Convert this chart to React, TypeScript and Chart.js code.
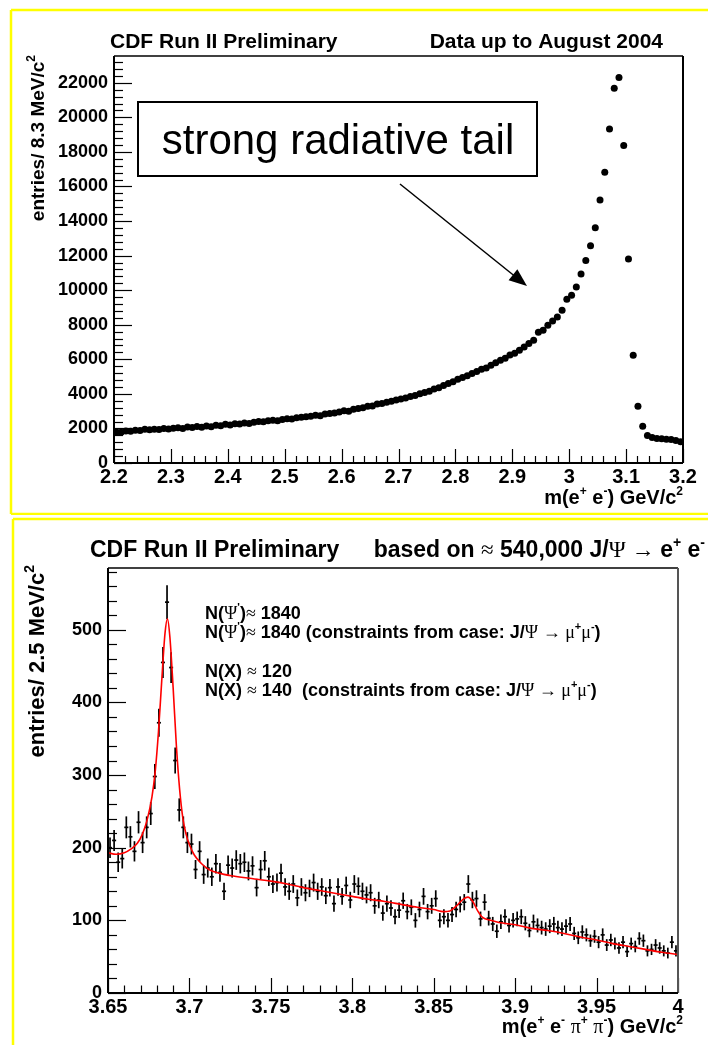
import React, { useEffect, useRef } from 'react';
import { Chart, registerables } from 'chart.js';
Chart.register(...registerables);

// ---------------- DATA ----------------
// Top panel: m(e+e-) spectrum, 120 bins of 8.33 MeV from 2.2 to 3.2 GeV
const topRange = [2.2, 3.2];
const topCounts = [
  1800, 1780, 1850, 1830, 1900, 1880, 1950, 1920, 1960, 1940,
  2000, 1970, 2010, 2040, 2000, 2080, 2060, 2110, 2070, 2140,
  2100, 2180, 2150, 2240, 2200, 2270, 2250, 2310, 2290, 2360,
  2400, 2380, 2440, 2470, 2450, 2520, 2560, 2540, 2620, 2650,
  2680, 2710, 2760, 2740, 2830, 2860, 2900, 2950, 3020, 3000,
  3110, 3150, 3200, 3280, 3300, 3420, 3440, 3520, 3580, 3650,
  3700, 3760, 3850, 3900, 4000, 4080, 4150, 4280, 4350, 4480,
  4600, 4700, 4850, 4950, 5050, 5180, 5300, 5420, 5500, 5650,
  5800, 5950, 6060, 6250, 6350, 6520, 6710, 6910, 7100, 7560,
  7680, 7970, 8220, 8450, 8840, 9480, 9710, 10190, 10930, 11720,
  12570, 13610, 15220, 16820, 19320, 21690, 22310, 18370, 11800, 6230,
  3280, 2130, 1590, 1480, 1420, 1400, 1380, 1360, 1300, 1230,
];
const topXTicks = [2.2, 2.3, 2.4, 2.5, 2.6, 2.7, 2.8, 2.9, 3.0, 3.1, 3.2];
const topYTicks = [0, 2000, 4000, 6000, 8000, 10000, 12000, 14000, 16000, 18000, 20000, 22000];
const topYMax = 23550;

// Bottom panel: m(e+e-pi+pi-) spectrum, 140 bins of 2.5 MeV from 3.65 to 4.0 GeV
const botRange = [3.65, 4.0];
const botCounts = [
  200, 210, 180, 185, 228, 215, 195, 235, 207, 228,
  247, 298, 372, 455, 538, 448, 320, 252, 228, 207,
  205, 170, 195, 163, 172, 160, 178, 166, 140, 176,
  172, 183, 178, 180, 168, 175, 145, 170, 182, 160,
  150, 152, 165, 146, 140, 150, 131, 146, 138, 144,
  152, 140, 146, 134, 145, 123, 146, 133, 148, 128,
  150, 147, 140, 135, 138, 120, 128, 110, 123, 117,
  105, 114, 127, 112, 118, 100, 115, 133, 112, 120,
  130, 100, 105, 100, 108, 115, 122, 125, 150, 128,
  130, 102, 125, 103, 95, 85, 98, 105, 93, 100,
  102, 105, 96, 86, 98, 93, 90, 88, 92, 95,
  90, 88, 92, 95, 82, 76, 84, 80, 72, 78,
  70, 80, 66, 73, 68, 62, 70, 57, 68, 64,
  75, 72, 58, 60, 66, 62, 58, 55, 70, 58,
];
// Fit curve (red)
const fitMass = [
  3.65, 3.655, 3.66, 3.664, 3.668, 3.671, 3.674, 3.677, 3.679, 3.681, 3.683, 3.685, 3.6865,
  3.688, 3.69, 3.692, 3.694, 3.696, 3.698, 3.7, 3.703, 3.707, 3.712, 3.718, 3.727, 3.74,
  3.75, 3.76, 3.77, 3.78, 3.79, 3.8, 3.81, 3.82, 3.83, 3.84, 3.85, 3.856, 3.86, 3.864,
  3.868, 3.871, 3.874, 3.877, 3.88, 3.885, 3.89, 3.9, 3.91, 3.92, 3.93, 3.94, 3.95, 3.96,
  3.97, 3.98, 3.99, 4.0,
];
const fitValue = [
  193, 191, 193, 198, 206, 218, 238, 270, 305, 360, 430, 495, 515,
  490, 420, 340, 280, 240, 218, 204, 190, 179, 170, 165, 161, 157,
  154, 150, 145, 141, 137, 133, 129, 126, 122, 118, 115, 112, 113, 120,
  129, 132, 126, 113, 104, 100, 97, 94, 89, 86, 82, 77, 73, 68,
  64, 60, 56, 53,
];
const botXTicks = [3.65, 3.7, 3.75, 3.8, 3.85, 3.9, 3.95, 4.0];
const botYTicks = [0, 100, 200, 300, 400, 500];
const botYMax = 585;

// ---------------- helpers ----------------
const FAM = "'Liberation Sans', Arial, Helvetica, sans-serif";
const SERIF = "'Liberation Serif', 'DejaVu Serif', serif";

type Seg = { t: string; sz?: number; b?: boolean; serif?: boolean; up?: number };

function drawRich(ctx: CanvasRenderingContext2D, segs: Seg[], x: number, y: number, size: number, align: 'left' | 'right' | 'center') {
  const parts = segs.map((s) => {
    const sz = s.sz ?? size;
    const bold = s.b === false || s.serif ? '' : 'bold ';
    const font = `${bold}${sz}px ${s.serif ? SERIF : FAM}`;
    ctx.font = font;
    return { ...s, font, w: ctx.measureText(s.t).width };
  });
  const total = parts.reduce((a, p) => a + p.w, 0);
  let cx = align === 'right' ? x - total : align === 'center' ? x - total / 2 : x;
  ctx.textAlign = 'left';
  ctx.textBaseline = 'alphabetic';
  for (const p of parts) {
    ctx.font = p.font;
    ctx.fillText(p.t, cx, y - (p.up ?? 0));
    cx += p.w;
  }
}
const sup = (t: string, size: number): Seg => ({ t, sz: Math.round(size * 0.62), up: size * 0.45 });

function line(ctx: CanvasRenderingContext2D, x1: number, y1: number, x2: number, y2: number) {
  ctx.beginPath();
  ctx.moveTo(x1, y1);
  ctx.lineTo(x2, y2);
  ctx.stroke();
}

function drawAxesTicks(chart: any, xMinor: number, yMinor: number, yMajor: number, xMajorEvery: number, yMax: number, xr: number[], tickLenY: number, tickLenX: number, rightColor: string) {
  const { ctx, chartArea: a, scales } = chart;
  const x = scales.x, y = scales.y;
  ctx.save();
  ctx.strokeStyle = '#000';
  ctx.lineWidth = 1.2;
  for (let k = 0; k * yMinor <= yMax + 1e-9; k++) {
    const v = k * yMinor;
    const py = Math.round(y.getPixelForValue(v)) + 0.5;
    const major = k % (yMajor / yMinor) === 0;
    line(ctx, a.left, py, a.left + (major ? tickLenY : tickLenY / 2), py);
  }
  const n = Math.round((xr[1] - xr[0]) / xMinor);
  for (let k = 0; k <= n; k++) {
    const v = xr[0] + k * xMinor;
    const px = Math.round(x.getPixelForValue(v)) + 0.5;
    const major = k % xMajorEvery === 0;
    line(ctx, px, a.bottom, px, a.bottom - (major ? tickLenX : tickLenX / 2));
  }
  // frame
  ctx.lineWidth = 1.5;
  line(ctx, a.left, a.top, a.right, a.top);
  ctx.strokeStyle = rightColor;
  ctx.lineWidth = 2;
  line(ctx, a.right, a.top, a.right, a.bottom);
  ctx.strokeStyle = '#000';
  line(ctx, a.left, a.top, a.left, a.bottom);
  line(ctx, a.left, a.bottom, a.right, a.bottom);
  ctx.restore();
}

const fmtX = (v: number) => String(+Number(v).toFixed(2));

// ---------------- plugins ----------------
const topPlugin = {
  id: 'topDeco',
  afterDraw(chart: any) {
    const { ctx } = chart;
    drawAxesTicks(chart, 0.02, 400, 2000, 5, topYMax, topRange, 18, 14, '#000');
    ctx.save();
    ctx.fillStyle = '#000';
    // titles
    drawRich(ctx, [{ t: 'CDF Run II Preliminary' }], 110, 48, 21, 'left');
    drawRich(ctx, [{ t: 'Data up to August 2004' }], 663, 48, 21, 'right');
    // x label
    drawRich(ctx, [{ t: 'm(e' }, sup('+', 20), { t: ' e' }, sup('-', 20), { t: ') GeV/c' }, sup('2', 20)], 683, 504, 20, 'right');
    // y label
    ctx.save();
    ctx.translate(44, 55);
    ctx.rotate(-Math.PI / 2);
    drawRich(ctx, [{ t: 'entries/ 8.3 MeV/c' }, sup('2', 19)], 0, 0, 19, 'right');
    ctx.restore();
    // annotation box
    ctx.fillStyle = '#fff';
    ctx.fillRect(138, 102, 399, 74);
    ctx.strokeStyle = '#000';
    ctx.lineWidth = 2;
    ctx.strokeRect(138, 102, 399, 74);
    ctx.fillStyle = '#000';
    ctx.font = `42px ${FAM}`;
    ctx.textAlign = 'center';
    ctx.textBaseline = 'alphabetic';
    ctx.fillText('strong radiative tail', 338, 154);
    // arrow
    const x1 = 400, y1 = 184, x2 = 527, y2 = 286;
    const ang = Math.atan2(y2 - y1, x2 - x1);
    ctx.lineWidth = 1.5;
    line(ctx, x1, y1, x2 - 14 * Math.cos(ang), y2 - 14 * Math.sin(ang));
    ctx.beginPath();
    ctx.moveTo(x2, y2);
    ctx.lineTo(x2 - 18 * Math.cos(ang) + 7 * Math.sin(ang), y2 - 18 * Math.sin(ang) - 7 * Math.cos(ang));
    ctx.lineTo(x2 - 18 * Math.cos(ang) - 7 * Math.sin(ang), y2 - 18 * Math.sin(ang) + 7 * Math.cos(ang));
    ctx.closePath();
    ctx.fill();
    // yellow frame
    ctx.strokeStyle = '#ffff00';
    ctx.lineWidth = 2.5;
    line(ctx, 11, 10, 708, 10);
    line(ctx, 11, 10, 11, 514);
    line(ctx, 11, 514, 708, 514);
    ctx.restore();
  },
};

const BIN_BOT = (botRange[1] - botRange[0]) / botCounts.length;

const botPlugin = {
  id: 'botDeco',
  beforeDatasetsDraw(chart: any) {
    const { ctx, chartArea: a, scales } = chart;
    const x = scales.x, y = scales.y;
    const pts = chart.data.datasets[1].data as { x: number; y: number }[];
    ctx.save();
    ctx.beginPath();
    ctx.rect(a.left, a.top, a.right - a.left, a.bottom - a.top);
    ctx.clip();
    ctx.strokeStyle = '#000';
    ctx.lineWidth = 1.7;
    for (const p of pts) {
      const e = Math.sqrt(p.y);
      const px = x.getPixelForValue(p.x);
      const py = y.getPixelForValue(p.y);
      line(ctx, px, y.getPixelForValue(p.y + e), px, y.getPixelForValue(p.y - e));
      line(ctx, x.getPixelForValue(p.x - BIN_BOT / 2), py, x.getPixelForValue(p.x + BIN_BOT / 2), py);
    }
    ctx.restore();
  },
  afterDraw(chart: any) {
    const { ctx } = chart;
    drawAxesTicks(chart, 0.01, 20, 100, 5, botYMax, botRange, 18, 15, '#555');
    ctx.save();
    ctx.fillStyle = '#000';
    const T = 23;
    drawRich(ctx, [{ t: 'CDF Run II Preliminary' }], 90, 42, T, 'left');
    drawRich(
      ctx,
      [{ t: 'based on ' }, { t: '≈', serif: true }, { t: ' 540,000 J/' }, { t: 'Ψ', serif: true }, { t: ' → ', serif: true }, { t: 'e' }, sup('+', T), { t: ' e' }, sup('-', T)],
      705, 42, T, 'right'
    );
    const S = 18;
    const psi: Seg[] = [{ t: 'N(' }, { t: 'Ψ', serif: true }, sup("'", S), { t: ')' }, { t: '≈', serif: true }, { t: ' 1840' }];
    const cons: Seg[] = [{ t: '(constraints from case: J/' }, { t: 'Ψ', serif: true }, { t: ' → ', serif: true }, { t: 'μ', serif: true }, sup('+', S), { t: 'μ', serif: true }, sup('-', S), { t: ')' }];
    drawRich(ctx, psi, 205, 104, S, 'left');
    drawRich(ctx, [...psi, { t: ' ' }, ...cons], 205, 123, S, 'left');
    const nx1: Seg[] = [{ t: 'N(X) ' }, { t: '≈', serif: true }, { t: ' 120' }];
    const nx2: Seg[] = [{ t: 'N(X) ' }, { t: '≈', serif: true }, { t: ' 140  ' }, ...cons];
    drawRich(ctx, nx1, 205, 162, S, 'left');
    drawRich(ctx, nx2, 205, 181, S, 'left');
    // x label
    const L = 20;
    drawRich(
      ctx,
      [{ t: 'm(e' }, sup('+', L), { t: ' e' }, sup('-', L), { t: ' ' }, { t: 'π', serif: true }, sup('+', L), { t: ' ' }, { t: 'π', serif: true }, sup('-', L), { t: ') GeV/c' }, sup('2', L)],
      683, 518, L, 'right'
    );
    // y label
    ctx.save();
    ctx.translate(44, 50);
    ctx.rotate(-Math.PI / 2);
    drawRich(ctx, [{ t: 'entries/ 2.5 MeV/c' }, sup('2', 22)], 0, 0, 22, 'right');
    ctx.restore();
    // yellow frame
    ctx.strokeStyle = '#ffff00';
    ctx.lineWidth = 2.5;
    line(ctx, 13, 4, 708, 4);
    line(ctx, 13, 4, 13, 530);
    ctx.restore();
  },
};

// ---------------- component ----------------
function useChart(ref: React.RefObject<HTMLCanvasElement>, make: (c: HTMLCanvasElement) => Chart) {
  useEffect(() => {
    if (!ref.current) return;
    const ch = make(ref.current);
    return () => ch.destroy();
  }, []);
}

const tickFont = (size: number) => ({ family: FAM, size, weight: 'bold' as const });
const noGrid = { display: false, drawTicks: false, tickLength: 0 };

export default function App() {
  const topRef = useRef<HTMLCanvasElement>(null);
  const botRef = useRef<HTMLCanvasElement>(null);

  useEffect(() => {
    document.body.style.margin = '0';
    document.body.style.background = '#fff';
  }, []);

  useChart(topRef as any, (c) => {
    const bw = (topRange[1] - topRange[0]) / topCounts.length;
    const pts = topCounts.map((v, i) => ({ x: topRange[0] + (i + 0.5) * bw, y: v }));
    return new Chart(c, {
      type: 'scatter',
      data: {
        datasets: [
          { data: pts, pointRadius: 3.5, pointBackgroundColor: '#000', pointBorderWidth: 0, pointBorderColor: '#000' },
        ],
      },
      options: {
        animation: false,
        responsive: false,
        maintainAspectRatio: false,
        layout: { padding: { left: 0, top: 56, right: 25, bottom: 0 } },
        plugins: { legend: { display: false }, tooltip: { enabled: false } },
        scales: {
          x: {
            type: 'linear', min: topRange[0], max: topRange[1],
            grid: noGrid, border: { display: false },
            afterBuildTicks: (s: any) => { s.ticks = topXTicks.map((v) => ({ value: v })); },
            afterFit: (s: any) => { s.height = 52; },
            ticks: { font: tickFont(20), color: '#000', padding: 2, maxRotation: 0, autoSkip: false, callback: (v: any) => fmtX(v) },
          },
          y: {
            type: 'linear', min: 0, max: topYMax,
            grid: noGrid, border: { display: false },
            afterBuildTicks: (s: any) => { s.ticks = topYTicks.map((v) => ({ value: v })); },
            afterFit: (s: any) => { s.width = 114; },
            ticks: { font: tickFont(18), color: '#000', padding: 6, autoSkip: false, callback: (v: any) => String(v) },
          },
        },
      },
      plugins: [topPlugin],
    });
  });

  useChart(botRef as any, (c) => {
    const pts = botCounts.map((v, i) => ({ x: botRange[0] + (i + 0.5) * BIN_BOT, y: v }));
    const fit = fitMass.map((m, i) => ({ x: m, y: fitValue[i] }));
    return new Chart(c, {
      type: 'scatter',
      data: {
        datasets: [
          { data: fit, showLine: true, borderColor: '#ff0000', borderWidth: 1.6, pointRadius: 0, cubicInterpolationMode: 'monotone' } as any,
          { data: pts, pointRadius: 0, showLine: false },
        ],
      },
      options: {
        animation: false,
        responsive: false,
        maintainAspectRatio: false,
        layout: { padding: { left: 0, top: 53, right: 30, bottom: 0 } },
        plugins: { legend: { display: false }, tooltip: { enabled: false } },
        scales: {
          x: {
            type: 'linear', min: botRange[0], max: botRange[1],
            grid: noGrid, border: { display: false },
            afterBuildTicks: (s: any) => { s.ticks = botXTicks.map((v) => ({ value: v })); },
            afterFit: (s: any) => { s.height = 52; },
            ticks: { font: tickFont(20), color: '#000', padding: 2, maxRotation: 0, autoSkip: false, callback: (v: any) => fmtX(v) },
          },
          y: {
            type: 'linear', min: 0, max: botYMax,
            grid: noGrid, border: { display: false },
            afterBuildTicks: (s: any) => { s.ticks = botYTicks.map((v) => ({ value: v })); },
            afterFit: (s: any) => { s.width = 108; },
            ticks: { font: tickFont(18), color: '#000', padding: 6, autoSkip: false, callback: (v: any) => String(v) },
          },
        },
      },
      plugins: [botPlugin],
    });
  });

  return (
    <div style={{ position: 'absolute', left: 0, top: 0, width: 708, height: 1045, background: '#fff' }}>
      <canvas ref={topRef} width={708} height={515} style={{ position: 'absolute', left: 0, top: 0, width: 708, height: 515 }} />
      <canvas ref={botRef} width={708} height={530} style={{ position: 'absolute', left: 0, top: 515, width: 708, height: 530 }} />
    </div>
  );
}
